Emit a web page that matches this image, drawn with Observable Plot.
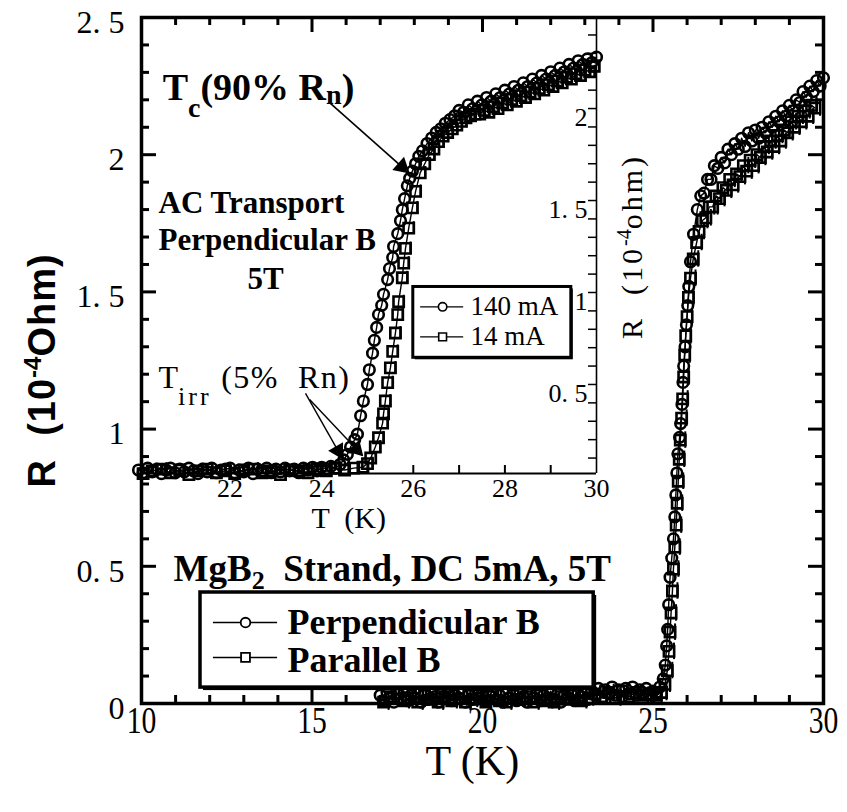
<!DOCTYPE html>
<html><head><meta charset="utf-8">
<script src="https://cdn.jsdelivr.net/npm/d3@7"></script>
<script src="https://cdn.jsdelivr.net/npm/@observablehq/plot@0.6"></script>
<style>
body{margin:0;background:#fff;}
#wrap{position:relative;width:847px;height:812px;}
#wrap svg{position:absolute;left:0;top:0;}
</style></head><body><div id="wrap"></div>
<script>
// ---------- Main plot data (DC 5 mA, 5 T) ----------
const perpT = [
  17.0,17.1,17.2,17.3,17.4,17.5,17.6,17.7,17.8,17.9,
  18.0,18.1,18.2,18.3,18.4,18.5,18.6,18.7,18.8,18.9,
  19.0,19.1,19.2,19.3,19.4,19.5,19.6,19.7,19.8,19.9,
  20.0,20.1,20.2,20.3,20.4,20.5,20.6,20.7,20.8,20.9,
  21.0,21.1,21.2,21.3,21.4,21.5,21.6,21.7,21.8,21.9,
  22.0,22.1,22.2,22.3,22.4,22.5,22.6,22.7,22.8,22.9,
  23.0,23.1,23.2,23.3,23.4,23.5,23.6,23.7,23.8,23.9,
  24.0,24.1,24.2,24.3,24.4,24.5,24.6,24.7,24.8,24.9,
  25.0,25.1,25.2,25.3,25.36,25.4,25.43,25.46,25.5,25.55,25.6,25.64,25.67,25.7,25.73,25.78,25.81,25.85,25.88,25.9,25.94,25.98,26.02,26.05,26.1,26.19,
  26.3,26.4,26.5,26.6,26.7,26.8,26.9,27.0,27.1,27.2,27.3,27.4,27.5,27.6,27.7,27.8,27.9,28.0,28.1,28.2,28.3,28.4,28.5,28.6,28.7,28.8,28.9,29.0,29.1,29.2,29.3,29.4,29.5,29.6,29.7,29.8,29.9,30.0];
const perpR = [
  0.03,0.01,0.04,0.02,0.005,0.035,0.02,0.045,0.01,0.03,
  0.02,0.04,0.005,0.03,0.015,0.04,0.025,0.005,0.035,0.02,
  0.045,0.01,0.03,0.02,0.04,0.005,0.03,0.015,0.04,0.02,
  0.035,0.01,0.03,0.045,0.015,0.03,0.005,0.04,0.02,0.035,
  0.01,0.04,0.025,0.005,0.035,0.02,0.04,0.01,0.03,0.02,
  0.045,0.015,0.035,0.005,0.03,0.02,0.04,0.01,0.035,0.025,
  0.04,0.015,0.045,0.03,0.055,0.02,0.05,0.035,0.06,0.03,
  0.05,0.025,0.055,0.035,0.06,0.03,0.05,0.04,0.055,0.03,
  0.045,0.04,0.06,0.09,0.14,0.21,0.27,0.36,0.46,0.53,0.60,0.68,0.76,0.84,0.91,0.97,1.02,1.09,1.17,1.23,1.30,1.38,1.45,1.52,1.61,1.71,
  1.80,1.85,1.86,1.91,1.91,1.96,1.95,1.99,1.97,2.02,2.00,2.04,2.02,2.06,2.03,2.08,2.05,2.09,2.06,2.10,2.08,2.12,2.10,2.14,2.12,2.16,2.14,2.18,2.16,2.20,2.19,2.23,2.21,2.25,2.23,2.27,2.25,2.28];
const paraT = [17.1,17.3,17.5,17.7,17.9,18.1,18.3,18.5,18.7,18.9,19.1,19.3,19.5,19.7,19.9,20.1,20.3,20.5,20.7,20.9,21.1,21.3,21.5,21.7,21.9,22.1,22.3,22.5,22.7,22.9,23.1,23.3,23.5,23.7,23.9,24.1,24.3,24.5,24.7,24.9,
  25.1,25.25,25.35,25.42,25.47,25.5,25.53,25.57,25.6,25.64,25.68,25.71,25.74,25.77,25.8,25.84,25.87,25.9,25.93,25.96,26.0,26.04,26.1,26.18,26.28,
  26.35,26.45,26.55,26.65,26.75,26.85,26.95,27.05,27.15,27.25,27.35,27.45,27.55,27.65,27.75,27.85,27.95,28.05,28.15,28.25,28.35,28.45,28.55,28.65,28.75,28.85,28.95,29.05,29.15,29.25,29.35,29.45,29.55,29.65,29.75];
const paraR = [0.005,0.025,0.035,0.01,0.02,0.005,0.03,0.015,0.005,0.025,0.01,0.035,0.005,0.015,0.03,0.005,0.025,0.01,0.005,0.03,0.015,0.025,0.005,0.03,0.01,0.005,0.025,0.015,0.03,0.01,0.02,0.035,0.025,0.04,0.02,0.045,0.025,0.04,0.03,0.035,
  0.03,0.04,0.07,0.12,0.19,0.26,0.33,0.41,0.49,0.57,0.65,0.73,0.81,0.89,0.96,1.04,1.11,1.19,1.27,1.34,1.41,1.48,1.55,1.62,1.68,
  1.72,1.76,1.77,1.81,1.81,1.85,1.84,1.88,1.87,1.91,1.89,1.93,1.92,1.96,1.94,1.98,1.96,2.00,1.99,2.03,2.01,2.05,2.03,2.07,2.05,2.09,2.08,2.12,2.10,2.14,2.12,2.16,2.14,2.18,2.17];
const paraErr = 0.03;   // half-height of the error bars on the squares

// ---------- Inset data (AC transport, perpendicular B, 5 T) ----------
const ac140T = [
  20.0,20.1,20.2,20.3,20.4,20.5,20.6,20.7,20.8,20.9,
  21.0,21.1,21.2,21.3,21.4,21.5,21.6,21.7,21.8,21.9,
  22.0,22.1,22.2,22.3,22.4,22.5,22.6,22.7,22.8,22.9,
  23.0,23.1,23.2,23.3,23.4,23.5,23.6,23.7,23.8,23.9,
  24.0,24.1,24.2,24.3,24.4,
  24.48,24.56,24.63,24.72,24.78,24.85,24.91,25.0,25.04,25.11,25.15,25.2,25.24,25.31,25.35,25.44,25.48,25.55,25.57,25.66,25.72,25.76,25.81,25.87,25.92,25.98,
  26.05,26.12,26.2,26.3,26.4,26.5,26.6,26.7,26.8,26.9,
  27.0,27.1,27.2,27.3,27.4,27.5,27.6,27.7,27.8,27.9,28.0,28.1,28.2,28.3,28.4,28.5,28.6,28.7,28.8,28.9,29.0,29.1,29.2,29.3,29.4,29.5,29.6,29.7,29.8,29.9,30.0];
const ac140R = [
  0.035,0.02,0.045,0.025,0.04,0.015,0.035,0.045,0.02,0.04,
  0.025,0.045,0.03,0.015,0.04,0.025,0.045,0.02,0.035,0.04,
  0.045,0.02,0.035,0.025,0.045,0.015,0.04,0.03,0.045,0.02,
  0.04,0.025,0.045,0.03,0.04,0.02,0.045,0.035,0.05,0.03,
  0.05,0.04,0.055,0.045,0.065,
  0.09,0.12,0.16,0.20,0.23,0.33,0.41,0.50,0.58,0.67,0.74,0.81,0.88,0.93,0.99,1.07,1.13,1.19,1.25,1.32,1.39,1.45,1.51,1.58,1.62,1.66,
  1.70,1.74,1.77,1.81,1.84,1.87,1.89,1.92,1.94,1.96,
  1.99,1.98,2.02,2.00,2.04,2.02,2.06,2.04,2.08,2.06,2.10,2.08,2.12,2.10,2.14,2.12,2.16,2.14,2.18,2.16,2.20,2.18,2.22,2.20,2.24,2.22,2.26,2.24,2.27,2.25,2.28];
const ac14T = [20.1,20.3,20.5,20.7,20.9,21.1,21.3,21.5,21.7,21.9,22.1,22.3,22.5,22.7,22.9,23.1,23.3,23.5,23.7,23.9,24.1,24.3,24.5,24.7,24.9,
  25.0,25.07,25.17,25.24,25.33,25.35,25.39,25.44,25.5,25.55,25.61,25.66,25.68,25.76,25.79,25.83,25.9,25.98,26.05,
  26.15,26.25,26.35,26.45,26.55,26.65,26.75,26.85,26.95,27.05,27.15,27.25,27.35,
  27.45,27.55,27.65,27.75,27.85,27.95,28.05,28.15,28.25,28.35,28.45,28.55,28.65,28.75,28.85,28.95,29.05,29.15,29.25,29.35,29.45,29.55,29.65,29.75,29.85,29.95];
const ac14R = [0.015,0.03,0.04,0.02,0.035,0.01,0.03,0.04,0.02,0.03,0.015,0.035,0.04,0.02,0.03,0.01,0.035,0.03,0.02,0.04,0.03,0.045,0.035,0.045,0.05,
  0.07,0.10,0.16,0.21,0.29,0.34,0.41,0.51,0.59,0.68,0.78,0.88,0.95,1.08,1.16,1.24,1.35,1.46,1.55,
  1.65,1.70,1.75,1.78,1.82,1.85,1.87,1.89,1.91,1.93,1.95,1.96,1.97,
  1.97,1.99,1.98,2.01,2.00,2.03,2.02,2.05,2.04,2.07,2.06,2.09,2.08,2.11,2.10,2.13,2.12,2.15,2.14,2.17,2.16,2.19,2.18,2.21,2.20,2.23];
const ac14Err = 0.035;  // half-height of the error bars on the squares

// ---------- Tick labels & names ----------
const mainXLabels = [10, 15, 20, 25, 30];
const mainYLabels = [0, 0.5, 1, 1.5, 2, 2.5];
const insetXLabels = [22, 24, 26, 28, 30];
const insetYLabels = [0.5, 1, 1.5, 2];
const mainSeries = ["Perpendicular B", "Parallel B"];
const insetSeries = ["140 mA", "14 mA"];

const rows = (T, R) => T.map((t, i) => ({T: t, R: R[i]}));
const perp = rows(perpT, perpR), para = rows(paraT, paraR);
const a140 = rows(ac140T, ac140R), a14 = rows(ac14T, ac14R);

const serif = "Liberation Serif";
const W = 847, H = 812;

// main frame geometry
const mL = 141, mR = 24, mT = 17, mB = 109;
const PW = W - mL - mR, PH = H - mT - mB;
const xMinor = d3.range(11, 30).filter(v => v % 5 !== 0);
const yMinor = d3.range(1, 25).filter(v => v % 5 !== 0).map(v => v / 10);
const yMajorT = [0.5, 1, 1.5, 2];
const xMajorT = [15, 20, 25];
const fmtY = d => (d % 1 ? d.toFixed(1).replace(".", ". ") : String(d));
const SW = 2.6;

const main = Plot.plot({
  width: W, height: H, marginLeft: mL, marginRight: mR, marginTop: mT, marginBottom: mB,
  x: {domain: [10, 30], axis: null},
  y: {domain: [0, 2.5], axis: null},
  style: {background: "transparent", overflow: "visible"},
  marks: [
    // data
    Plot.line(para, {x: "T", y: "R", stroke: "black", strokeWidth: 1.4}),
    Plot.line(perp, {x: "T", y: "R", stroke: "black", strokeWidth: 1.4}),
    Plot.ruleX(para, {x: "T", y1: d => d.R - paraErr, y2: d => d.R + paraErr, dx: 5, stroke: "black", strokeWidth: 2}),
    Plot.dot(para, {x: "T", y: "R", symbol: "square", r: 5.8, stroke: "black", fill: "none", strokeWidth: SW}),
    Plot.dot(perp, {x: "T", y: "R", symbol: "circle", r: 5.3, stroke: "black", fill: "none", strokeWidth: SW}),
    // ticks (inward)
    Plot.tickX(xMinor, {x: d => d, insetTop: PH - 8, strokeWidth: 3}),
    Plot.tickX(xMinor, {x: d => d, insetBottom: PH - 8, strokeWidth: 3}),
    Plot.tickX(xMajorT, {x: d => d, insetTop: PH - 15, strokeWidth: 3}),
    Plot.tickX(xMajorT, {x: d => d, insetBottom: PH - 15, strokeWidth: 3}),
    Plot.tickY(yMinor, {y: d => d, insetRight: PW - 8, strokeWidth: 3}),
    Plot.tickY(yMinor, {y: d => d, insetLeft: PW - 8, strokeWidth: 3}),
    Plot.tickY(yMajorT, {y: d => d, insetRight: PW - 15, strokeWidth: 3}),
    Plot.tickY(yMajorT, {y: d => d, insetLeft: PW - 15, strokeWidth: 3}),
    Plot.frame({stroke: "black", strokeWidth: 3.5}),
    // tick labels
    Plot.text(mainXLabels, {x: d => d, text: d => String(d), frameAnchor: "bottom", dy: 29, fontSize: 38, fontFamily: serif}),
    Plot.text(mainYLabels, {y: d => d, text: fmtY, frameAnchor: "left", dx: -17, dy: 5, textAnchor: "end", fontSize: 32, fontFamily: serif}),
    // axis titles
    Plot.text(["T (K)"], {frameAnchor: "bottom", x: 19.7, dy: 71, fontSize: 42, fontFamily: serif}),
    Plot.text(["R (10-4Ohm)"], {frameAnchor: "left", dx: -99, y: 1.214, rotate: -90, textAnchor: "middle", fontSize: 38, fontWeight: "bold", fontFamily: "Liberation Sans"}),
    // annotations
    Plot.text(["Tc(90% Rn)"], {x: 10.62, y: 2.198, textAnchor: "start", lineAnchor: "bottom", fontSize: 38, fontWeight: "bold", fontFamily: serif}),
    Plot.link([0], {x1: 15.54, y1: 2.187, x2: 17.83, y2: 1.935, stroke: "black", strokeWidth: 1.6}),
    Plot.dot([0], {x: 17.83, y: 1.935, dx: -6.5, dy: -5.8, symbol: "triangle", r: 5.6, fill: "black", stroke: "black", rotate: 131.5}),
    Plot.text(["AC Transport"], {x: 10.5, y: 1.786, textAnchor: "start", lineAnchor: "bottom", fontSize: 31, fontWeight: "bold", fontFamily: serif}),
    Plot.text(["Perpendicular B"], {x: 10.5, y: 1.651, textAnchor: "start", lineAnchor: "bottom", fontSize: 31, fontWeight: "bold", fontFamily: serif}),
    Plot.text(["5T"], {x: 13.64, y: 1.512, textAnchor: "middle", lineAnchor: "bottom", fontSize: 31, fontWeight: "bold", fontFamily: serif}),
    Plot.text(["Tirr (5% Rn)"], {x: 10.5, y: 1.148, textAnchor: "start", lineAnchor: "bottom", fontSize: 32, fontFamily: serif}),
    Plot.link([0], {x1: 14.81, y1: 1.130, x2: 15.89, y2: 0.893, stroke: "black", strokeWidth: 1.4}),
    Plot.dot([0], {x: 15.89, y: 0.893, dx: -4.3, dy: -7.6, symbol: "triangle", r: 5.4, fill: "black", stroke: "black", rotate: 150.4}),
    Plot.link([0], {x1: 14.93, y1: 1.108, x2: 16.48, y2: 0.904, stroke: "black", strokeWidth: 1.4}),
    Plot.dot([0], {x: 16.48, y: 0.904, dx: -6.0, dy: -6.3, symbol: "triangle", r: 5.4, fill: "black", stroke: "black", rotate: 136.6}),
    Plot.text(["MgB2 Strand, DC 5mA, 5T"], {x: 10.94, y: 0.448, textAnchor: "start", lineAnchor: "bottom", fontSize: 37, fontWeight: "bold", fontFamily: serif}),
    // main legend
    Plot.rect([0], {x1: 11.73, x2: 23.26, y1: 0.058, y2: 0.4045, fill: "black", dx: 3, dy: 3}),
    Plot.rect([0], {x1: 11.73, x2: 23.26, y1: 0.058, y2: 0.4045, fill: "white", stroke: "black", strokeWidth: 3.5}),
    Plot.ruleY([0.295], {x1: 12.11, x2: 13.99, stroke: "black", strokeWidth: 1.5}),
    Plot.dot([0], {x: 13.05, y: 0.295, symbol: "circle", r: 4.8, stroke: "black", fill: "white", strokeWidth: 1.8}),
    Plot.ruleY([0.168], {x1: 12.11, x2: 13.99, stroke: "black", strokeWidth: 1.5}),
    Plot.dot([0], {x: 13.05, y: 0.168, symbol: "square", r: 5, stroke: "black", fill: "white", strokeWidth: 1.8}),
    Plot.text([mainSeries[0]], {x: 14.28, y: 0.295, textAnchor: "start", fontSize: 36, fontWeight: "bold", fontFamily: serif}),
    Plot.text([mainSeries[1]], {x: 14.28, y: 0.155, textAnchor: "start", fontSize: 36, fontWeight: "bold", fontFamily: serif})
  ]
});

// ---------- Inset ----------
const iL = 138, iR = W - 596, iT = 17, iB = H - 473;
const IW = W - iL - iR, IH = H - iT - iB;
const iyDomain = [0.016, 2.495];
const ixTicks = d3.range(21, 30);
const iyTicks = d3.range(1, 25).map(v => v / 10);

const inset = Plot.plot({
  width: W, height: H, marginLeft: iL, marginRight: iR, marginTop: iT, marginBottom: iB,
  x: {domain: [20, 30], axis: null},
  y: {domain: iyDomain, axis: null},
  style: {background: "transparent", overflow: "visible"},
  marks: [
    Plot.line(a14, {x: "T", y: "R", stroke: "black", strokeWidth: 1.4}),
    Plot.line(a140, {x: "T", y: "R", stroke: "black", strokeWidth: 1.4}),
    Plot.ruleX(a14, {x: "T", y1: d => d.R - ac14Err, y2: d => d.R + ac14Err, dx: 5, stroke: "black", strokeWidth: 2}),
    Plot.dot(a14, {x: "T", y: "R", symbol: "square", r: 5.8, stroke: "black", fill: "none", strokeWidth: SW}),
    Plot.dot(a140, {x: "T", y: "R", symbol: "circle", r: 5.3, stroke: "black", fill: "none", strokeWidth: SW}),
    Plot.ruleY([iyDomain[0]], {stroke: "black", strokeWidth: 2}),
    Plot.ruleX([30], {stroke: "black", strokeWidth: 1.6}),
    Plot.tickX(ixTicks, {x: d => d, insetTop: IH - 8, strokeWidth: 2}),
    Plot.tickY(iyTicks, {y: d => d, insetLeft: IW - 8, strokeWidth: 1.5}),
    Plot.text(insetXLabels, {x: d => d, text: d => String(d), frameAnchor: "bottom", dy: 23, fontSize: 26, fontFamily: serif}),
    Plot.text(insetYLabels, {y: d => d, text: fmtY, frameAnchor: "right", dx: -9, dy: 9, textAnchor: "end", fontSize: 26, fontFamily: serif}),
    Plot.text(["T  (K)"], {frameAnchor: "bottom", x: 24.59, dy: 54, fontSize: 30, fontFamily: serif}),
    Plot.text(["R (10-4ohm)"], {frameAnchor: "right", dx: 36, y: 1.25, rotate: -90, textAnchor: "middle", fontSize: 30, fontFamily: serif}),
    // inset legend
    Plot.rect([0], {x1: 26.0, x2: 29.45, y1: 0.645, y2: 1.03, fill: "black", dx: 2, dy: 2}),
    Plot.rect([0], {x1: 26.0, x2: 29.45, y1: 0.645, y2: 1.03, fill: "white", stroke: "black", strokeWidth: 3}),
    Plot.ruleY([0.922], {x1: 26.16, x2: 27.10, stroke: "black", strokeWidth: 1.4}),
    Plot.dot([0], {x: 26.64, y: 0.922, symbol: "circle", r: 4.2, stroke: "black", fill: "white", strokeWidth: 1.6}),
    Plot.ruleY([0.759], {x1: 26.16, x2: 27.10, stroke: "black", strokeWidth: 1.4}),
    Plot.dot([0], {x: 26.64, y: 0.759, symbol: "square", r: 4.4, stroke: "black", fill: "white", strokeWidth: 1.6}),
    Plot.text([insetSeries[0]], {x: 27.25, y: 0.922, textAnchor: "start", fontSize: 27, fontFamily: serif}),
    Plot.text([insetSeries[1]], {x: 27.25, y: 0.759, textAnchor: "start", fontSize: 27, fontFamily: serif})
  ]
});

const wrap = document.getElementById("wrap");
wrap.appendChild(main);
wrap.appendChild(inset);

// ---------- rich text (sub/superscripts), found by content ----------
function findText(svg, content) {
  return d3.select(svg).selectAll("text").filter(function () { return this.textContent === content; });
}
function rich(svg, content, segs) {
  findText(svg, content).each(function () {
    const el = d3.select(this);
    while (this.firstChild) this.removeChild(this.firstChild);
    el.style("white-space", "pre");
    segs.forEach(s => {
      const ts = el.append("tspan").text(s.t);
      if (s.size) ts.attr("font-size", s.size);
      if (s.dy) ts.attr("dy", s.dy);
      if (s.ls != null) ts.style("letter-spacing", s.ls + "px");
    });
  });
}
rich(main, "Tc(90% Rn)", [{t: "T"}, {t: "c", size: 28, dy: 17}, {t: "(90% R", size: 38, dy: -17}, {t: "n", size: 28, dy: 4}, {t: ")", size: 38, dy: -4}]);
rich(main, "Tirr (5% Rn)", [{t: "T"}, {t: "irr", size: 26, dy: 17, ls: 3}, {t: " (5%  Rn)", size: 32, dy: -17, ls: 1.5}]);
rich(main, "MgB2 Strand, DC 5mA, 5T", [{t: "MgB"}, {t: "2", size: 26, dy: 8}, {t: "  Strand, DC 5mA, 5T", size: 37, dy: -8}]);
rich(main, "R (10-4Ohm)", [{t: "R  (10", ls: 1}, {t: "-4", size: 24, dy: -14}, {t: "Ohm)", size: 38, dy: 14, ls: 1}]);
rich(inset, "R (10-4ohm)", [{t: "R  (10", ls: 3}, {t: "-4", size: 20, dy: -11}, {t: "ohm)", size: 30, dy: 11, ls: 3}]);
rich(inset, "T  (K)", [{t: "T  (K)"}]);
// condensed look of the main x tick labels
d3.select(main).selectAll("text").filter(function () { return ["10", "15", "20", "25", "30"].includes(this.textContent); })
  .attr("transform", function () { return this.getAttribute("transform") + " scale(0.78,1)"; });
</script></body></html>
